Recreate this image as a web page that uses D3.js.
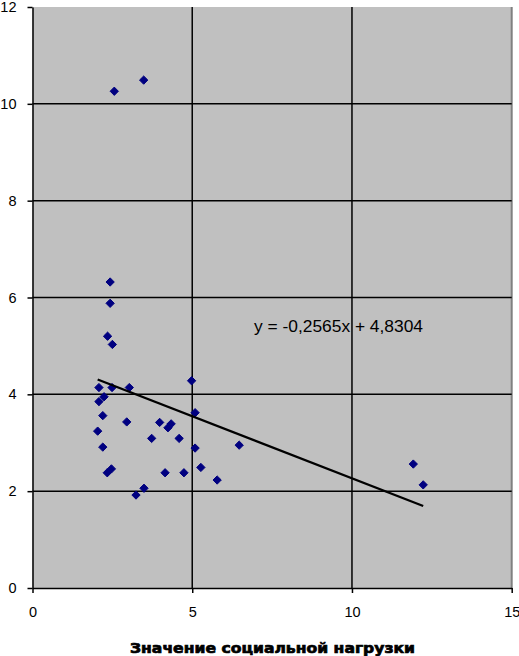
<!DOCTYPE html>
<html>
<head>
<meta charset="utf-8">
<script src="https://cdn.jsdelivr.net/npm/d3@7/dist/d3.min.js"></script>
<style>
  html, body { margin: 0; padding: 0; background: #ffffff; }
  svg { display: block; }
</style>
</head>
<body>
<svg id="chart" width="519" height="656"></svg>
<script>
// ---- data ----
const xValues = [2.08, 3.03, 2.49, 4.98, 2.08, 2.24, 2.20, 2.95, 2.04, 2.20,
                 3.98, 4.24, 4.34, 3.73, 4.59, 5.09, 5.09, 6.47, 2.34, 2.47,
                 4.15, 4.74, 5.27, 5.78, 3.24, 3.49, 2.43, 2.43, 2.35, 2.50,
                 2.56, 3.48, 11.92, 12.23];
const yValues = [4.14, 4.14, 4.14, 4.28, 3.85, 3.95, 3.56, 3.43, 3.24, 2.91,
                 3.42, 3.31, 3.39, 3.09, 3.09, 3.62, 2.89, 2.95, 2.38, 2.46,
                 2.38, 2.38, 2.49, 2.23, 1.92, 2.06, 6.32, 5.88, 5.20, 5.03,
                 10.26, 10.49, 2.56, 2.13];
const xTicks = [0, 5, 10, 15];
const yTicks = [0, 2, 4, 6, 8, 10, 12];
const trendSlope = -0.2565;
const trendIntercept = 4.8304;
const trendLabel = "y = -0,2565x + 4,8304";
const xAxisTitle = "Значение социальной нагрузки";

// ---- layout ----
(function () {
const svg = d3.select("#chart");
const pLeft = 32.5, pRight = 511.7, pTop = 7, pBottom = 588;
const x = d3.scaleLinear().domain([0, 15]).range([pLeft, pRight]);
const y = d3.scaleLinear().domain([0, 12]).range([pBottom, pTop]);
const font = "'Liberation Sans', Arial, sans-serif";

// plot area
svg.append("rect")
  .attr("x", pLeft).attr("y", pTop)
  .attr("width", pRight - pLeft).attr("height", pBottom - pTop)
  .attr("fill", "#c0c0c0");
svg.append("line")
  .attr("x1", pRight).attr("x2", pRight).attr("y1", pTop).attr("y2", pBottom)
  .attr("stroke", "#808080").attr("stroke-width", 2);

// gridlines
svg.append("g").selectAll("line")
  .data(yTicks.filter(d => d > 0 && d < 12))
  .join("line")
  .attr("x1", pLeft).attr("x2", pRight)
  .attr("y1", d => y(d)).attr("y2", d => y(d))
  .attr("stroke", "#000").attr("stroke-width", 1.5);
svg.append("g").selectAll("line")
  .data(xTicks.filter(d => d > 0 && d < 15))
  .join("line")
  .attr("x1", d => x(d)).attr("x2", d => x(d))
  .attr("y1", pTop).attr("y2", pBottom)
  .attr("stroke", "#000").attr("stroke-width", 1.5);

// axes
const yAxis = svg.append("g")
  .attr("transform", `translate(${pLeft},0)`)
  .call(d3.axisLeft(y).tickValues(yTicks).tickFormat(d3.format("d"))
    .tickSizeInner(5).tickSizeOuter(0).tickPadding(11));
const xAxis = svg.append("g")
  .attr("transform", `translate(0,${pBottom})`)
  .call(d3.axisBottom(x).tickValues(xTicks).tickFormat(d3.format("d"))
    .tickSizeInner(5).tickSizeOuter(0).tickPadding(14));
[yAxis, xAxis].forEach(g => {
  g.selectAll("text").attr("font-family", font).attr("font-size", 14.5).attr("fill", "#000");
  g.selectAll("line, path").attr("stroke", "#000").attr("stroke-width", 1.5);
});

// points
const data = xValues.map((v, i) => ({ x: v, y: yValues[i] }));
const diamond = d3.symbol().type(d3.symbolDiamond2).size(44);
svg.append("g").selectAll("path")
  .data(data)
  .join("path")
  .attr("transform", d => `translate(${x(d.x)},${y(d.y)})`)
  .attr("d", diamond)
  .attr("fill", "#000080")
  .attr("stroke", "#000080")
  .attr("stroke-width", 1);

// trend line
const xMin = d3.min(xValues), xMax = d3.max(xValues);
svg.append("line")
  .attr("x1", x(xMin)).attr("y1", y(trendSlope * xMin + trendIntercept))
  .attr("x2", x(xMax)).attr("y2", y(trendSlope * xMax + trendIntercept))
  .attr("stroke", "#000").attr("stroke-width", 2.3);

// trend label
svg.append("text")
  .attr("x", 254).attr("y", 332)
  .attr("font-family", font).attr("font-size", 16)
  .attr("textLength", 169).attr("lengthAdjust", "spacingAndGlyphs")
  .attr("fill", "#000")
  .text(trendLabel);

// x axis title
svg.append("text")
  .attr("x", 130).attr("y", 652.5)
  .attr("font-family", "'DejaVu Sans', Arial, sans-serif")
  .attr("font-weight", "bold").attr("font-size", 14)
  .attr("textLength", 285).attr("lengthAdjust", "spacingAndGlyphs")
  .attr("fill", "#000")
  .attr("stroke", "#000").attr("stroke-width", 0.7)
  .text(xAxisTitle);
})();
</script>
</body>
</html>
